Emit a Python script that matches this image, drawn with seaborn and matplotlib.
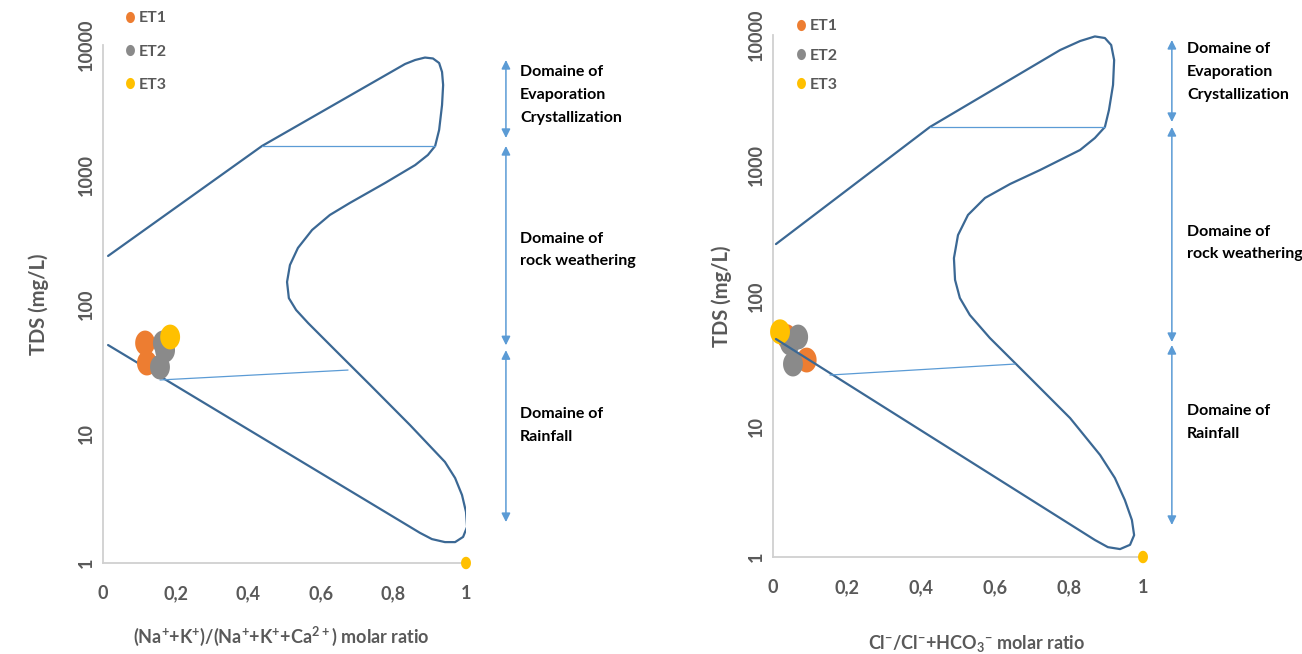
import numpy as np
import pandas as pd
import matplotlib
matplotlib.use("Agg")
import matplotlib.pyplot as plt
from matplotlib.path import Path
from matplotlib.markers import MarkerStyle
from matplotlib.lines import Line2D
import seaborn as sns

# ---- Gibbs envelope, cation diagram (ratio, TDS mg/L) ----
cat_env_x = [0.014, 0.438, 0.832, 0.860, 0.887, 0.909, 0.926, 0.934, 0.937, 0.934,
             0.926, 0.915, 0.895, 0.860, 0.777, 0.680, 0.625, 0.576, 0.537, 0.515,
             0.507, 0.512, 0.532, 0.565, 0.639, 0.736, 0.846, 0.942, 0.970, 0.989,
             1.000, 1.003, 0.992, 0.970, 0.942, 0.906, 0.873, 0.014]
cat_env_y = [235, 1660, 7130, 7660, 8000, 7870, 7260, 6190, 4910, 3440,
             2210, 1660, 1415, 1183, 860, 603, 487, 373, 271, 200,
             148, 111, 89.9, 71.3, 44.2, 23.7, 11.6, 6.03, 4.53, 3.35,
             2.48, 1.90, 1.59, 1.45, 1.45, 1.53, 1.71, 48.2]
cat_upper_x = [0.438, 0.915]
cat_upper_y = [1660, 1660]
cat_lower_x = [0.157, 0.675]
cat_lower_y = [25.9, 30.9]

# ---- Gibbs envelope, anion diagram ----
an_env_x = [0.008, 0.424, 0.776, 0.830, 0.870, 0.897, 0.914, 0.922, 0.919, 0.908,
            0.897, 0.870, 0.830, 0.722, 0.641, 0.573, 0.527, 0.500, 0.489, 0.492,
            0.505, 0.532, 0.586, 0.695, 0.803, 0.884, 0.924, 0.951, 0.970, 0.976,
            0.965, 0.938, 0.905, 0.870, 0.008]
an_env_y = [250, 1972, 7670, 8990, 9750, 9480, 8380, 6430, 4140, 2660,
            1972, 1625, 1315, 924, 722, 564, 418, 293, 195, 133,
            96.6, 71.5, 47.7, 23.5, 11.6, 6.05, 4.03, 2.73, 1.92, 1.47,
            1.24, 1.15, 1.19, 1.35, 46.8]
an_upper_x = [0.424, 0.897]
an_upper_y = [1972, 1972]
an_lower_x = [0.154, 0.654]
an_lower_y = [24.8, 30.1]

# ---- Samples ----
cat_station = ["ET1", "ET1", "ET2", "ET2", "ET2", "ET3", "ET3"]
cat_ratio = [0.116, 0.121, 0.165, 0.171, 0.157, 0.185, 1.0]
cat_tds = [50, 35, 50, 44, 32.6, 55.6, 1.0]

an_station = ["ET1", "ET1", "ET2", "ET2", "ET2", "ET3", "ET3"]
an_ratio = [0.037, 0.091, 0.068, 0.046, 0.054, 0.019, 1.0]
an_tds = [48.8, 32.3, 48.5, 43.6, 30.1, 53.2, 1.0]

stations = ["ET1", "ET2", "ET3"]
x_ticks = [0, 0.2, 0.4, 0.6, 0.8, 1]
x_tick_labels = ["0", "0,2", "0,4", "0,6", "0,8", "1"]
y_ticks = [1, 10, 100, 1000, 10000]
y_tick_labels = ["1", "10", "100", "1000", "10000"]

# Domain arrows (top, bottom) and captions
domain_labels = ["Domaine of\nEvaporation\nCrystallization",
                 "Domaine of\nrock weathering",
                 "Domaine of\nRainfall"]
cat_domains = [(7660, 1914), (1660, 48), (44, 2.07)]
an_domains = [(9160, 2154), (1972, 44.4), (42.1, 1.76)]
cat_caption_y = [4110, 261, 11.6]
an_caption_y = [5200, 255, 10.8]

sns.set_theme(style="white")
plt.rcParams["font.family"] = ["Lato", "DejaVu Sans"]
plt.rcParams["mathtext.default"] = "regular"

palette = {"ET1": "#ED7D31", "ET2": "#8A8A8A", "ET3": "#FFC000"}
LINE = "#3B6894"
THIN = "#5B9BD5"
GREY_TXT = "#595959"

# Slightly tall ellipse used as marker
th = np.linspace(0, 2 * np.pi, 64)
ell = MarkerStyle(Path(np.column_stack([np.cos(th) / 1.25, np.sin(th)]), closed=True))

W, H = 1302, 654
fig = plt.figure(figsize=(W / 100, H / 100), dpi=100)
ax1 = fig.add_axes([103 / W, 1 - 563 / H, 363 / W, (563 - 45) / H])
ax2 = fig.add_axes([773 / W, 1 - 557 / H, 370 / W, (557 - 35) / H])


def draw_panel(ax, env_x, env_y, up_x, up_y, lo_x, lo_y, st, rx, tds,
               domains, caption_y, arrow_x, text_x, xlabel, line_on_top,
               legend_anchor, legend_spacing):
    z_line = 4 if line_on_top else 2
    env = pd.DataFrame({"x": env_x, "y": env_y})
    sns.lineplot(data=env, x="x", y="y", sort=False, estimator=None,
                 color=LINE, lw=1.6, ax=ax, zorder=z_line)
    for xs, ys in ((up_x, up_y), (lo_x, lo_y)):
        sns.lineplot(x=xs, y=ys, sort=False, estimator=None,
                     color=THIN, lw=0.9, ax=ax, zorder=z_line)

    df = pd.DataFrame({"station": st, "ratio": rx, "tds": tds})
    df["size"] = np.where(df["ratio"] >= 1, 80, 320)
    sns.scatterplot(data=df, x="ratio", y="tds", hue="station", palette=palette,
                    size="size", sizes=(80, 320), marker=ell, linewidth=0,
                    legend=False, ax=ax, zorder=3, clip_on=False)

    ax.set_yscale("log")
    ax.set_xlim(0, 1)
    ax.set_ylim(1, 10000)
    ax.set_xticks(x_ticks)
    ax.set_xticklabels(x_tick_labels)
    ax.set_yticks(y_ticks)
    ax.set_yticklabels(y_tick_labels, rotation=90, va="center")
    ax.minorticks_off()
    ax.tick_params(axis="both", length=0, labelsize=13, labelcolor=GREY_TXT)
    ax.tick_params(axis="x", pad=16)
    ax.tick_params(axis="y", pad=6)
    for lab in ax.get_xticklabels() + ax.get_yticklabels():
        lab.set_fontweight("bold")
    for side in ("top", "right"):
        ax.spines[side].set_visible(False)
    for side in ("left", "bottom"):
        ax.spines[side].set_color("#D0D0D0")
        ax.spines[side].set_linewidth(1.3)
    ax.set_facecolor("none")

    ax.set_xlabel(xlabel, fontsize=13, fontweight="bold", color=GREY_TXT)
    ax.set_ylabel("TDS (mg/L)", fontsize=14.5, fontweight="bold", color=GREY_TXT)

    for top, bot in domains:
        ax.annotate("", xy=(arrow_x, top), xytext=(arrow_x, bot),
                    arrowprops=dict(arrowstyle="<|-|>", color=THIN, lw=1.1,
                                    mutation_scale=13, shrinkA=0, shrinkB=0),
                    annotation_clip=False)
    for ty, label in zip(caption_y, domain_labels):
        ax.text(text_x, ty, label, fontsize=11.5, fontweight="bold", color="black",
                ha="left", va="center", linespacing=1.8, clip_on=False)

    handles = [Line2D([], [], ls="none", marker=ell, markersize=8,
                      markerfacecolor=palette[s], markeredgewidth=0) for s in stations]
    ax.legend(handles, stations, loc="upper left", frameon=False,
              bbox_to_anchor=(legend_anchor[0] / W, 1 - legend_anchor[1] / H),
              bbox_transform=fig.transFigure, borderpad=0, borderaxespad=0,
              labelspacing=legend_spacing, handletextpad=0.05, handlelength=1.0,
              prop=dict(family="Lato", weight="bold", size=11.5), labelcolor=GREY_TXT)


draw_panel(ax1, cat_env_x, cat_env_y, cat_upper_x, cat_upper_y, cat_lower_x, cat_lower_y,
           cat_station, cat_ratio, cat_tds, cat_domains, cat_caption_y, 1.11, 1.149,
           r"(Na$^{+}$+K$^{+}$)/(Na$^{+}$+K$^{+}$+Ca$^{2+}$) molar ratio", False,
           (122, 11), 1.2)
draw_panel(ax2, an_env_x, an_env_y, an_upper_x, an_upper_y, an_lower_x, an_lower_y,
           an_station, an_ratio, an_tds, an_domains, an_caption_y, 1.078, 1.119,
           r"Cl$^{-}$/Cl$^{-}$+HCO$_{3}$$^{-}$ molar ratio", True,
           (793, 19), 0.95)

ax1.yaxis.set_label_coords(-0.148, 0.5)
ax1.xaxis.set_label_coords(0.49, -0.12)
ax2.yaxis.set_label_coords(-0.11, 0.5)
ax2.xaxis.set_label_coords(0.55, -0.145)

fig.savefig("out.png", dpi=100)
